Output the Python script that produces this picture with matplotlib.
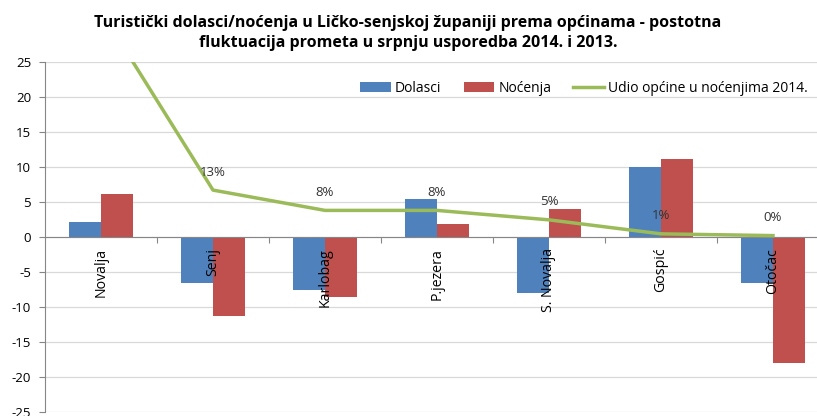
import matplotlib
matplotlib.use("Agg")
import matplotlib.pyplot as plt
from matplotlib.lines import Line2D
from matplotlib.patches import Patch

plt.rcParams['font.family'] = ['Open Sans', 'DejaVu Sans']

categories = ["Novalja", "Senj", "Karlobag", "P.jezera", "S. Novalja", "Gospić", "Otočac"]
dolasci = [2.2, -6.5, -7.5, 5.4, -8.0, 10.0, -6.5]
nocenja = [6.2, -11.3, -8.6, 1.8, 4.0, 11.1, -18.0]
udio = [0.646, 0.134, 0.076, 0.076, 0.049, 0.009, 0.004]
yticks = [25, 20, 15, 10, 5, 0, -5, -10, -15, -20, -25]

title = ("Turistički dolasci/noćenja u Ličko-senjskoj županiji prema općinama - postotna\n"
         "fluktuacija prometa u srpnju usporedba 2014. i 2013.")

blue = "#4F81BD"
red = "#C0504D"
green = "#9BBB59"
grid = "#D9D9D9"
axc = "#868686"

W, H = 817, 416
fig = plt.figure(figsize=(W / 100, H / 100), dpi=100)
left, right, top, bottom = 45, 829, 62, 412
ax = fig.add_axes([left / W, (H - bottom) / H, (right - left) / W, (bottom - top) / H])

x = list(range(len(categories)))
bw = 0.286
ax.bar([i - bw / 2 for i in x], dolasci, width=bw, color=blue, zorder=2)
ax.bar([i + bw / 2 for i in x], nocenja, width=bw, color=red, zorder=2)

ax.set_xlim(-0.5, len(categories) - 0.5)
ax.set_ylim(-25, 25)
ax.set_yticks(yticks)
ax.set_yticklabels([str(v) for v in yticks], fontsize=9.5, color="#000000")
ax.yaxis.grid(True, color=grid, linewidth=0.9, zorder=0)
ax.set_axisbelow(True)
ax.tick_params(axis='y', length=4, color=axc, pad=6)

ax.spines['top'].set_visible(False)
ax.spines['right'].set_visible(False)
ax.spines['left'].set_color(axc)
ax.spines['bottom'].set_position(('data', 0))
ax.spines['bottom'].set_color(axc)
ax.set_xticks([i + 0.5 for i in x[:-1]])
ax.set_xticklabels([])
ax.tick_params(axis='x', length=4, color=axc, direction='out')

for i, c in zip(x, categories):
    ax.text(i, -1.55, c, rotation=90, ha='center', va='top', fontsize=10.2, zorder=5)

ax2 = ax.twinx()
ax2.set_ylim(-0.5, 0.5)
ax2.axis('off')
ax2.plot(x, udio, color=green, linewidth=2.5, zorder=3)
for i, v in zip(x, udio):
    ax2.annotate(f"{round(v * 100):.0f}%", (i, v), xytext=(0, 13), textcoords='offset points',
                 ha='center', va='center', fontsize=9.5, color="#333333",
                 annotation_clip=True)

handles = [Patch(facecolor=blue), Patch(facecolor=red), Line2D([], [], color=green, linewidth=2.5)]
labels = ["Dolasci", "Noćenja", "Udio općine u noćenjima 2014."]
fig.legend(handles, labels, loc='center', bbox_to_anchor=(584 / W, 1 - 88 / H), ncol=3,
           frameon=False, fontsize=10, handlelength=2.2, handleheight=0.7,
           columnspacing=1.6, handletextpad=0.3)

fig.text(408 / W, 1 - 33 / H, title, ha='center', va='center', fontsize=11.5,
         fontweight='bold', linespacing=1.35)

fig.savefig("out.png", dpi=100)
